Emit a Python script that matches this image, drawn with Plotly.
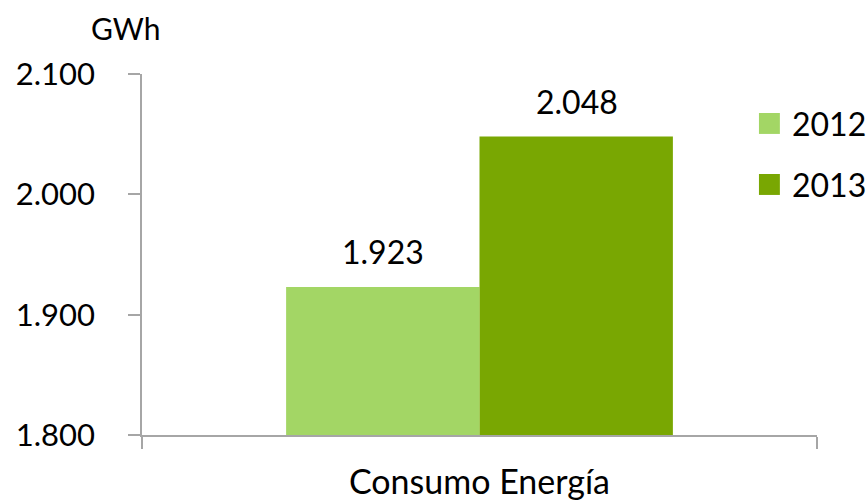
import plotly.graph_objects as go

categories = ["Consumo Energía"]
years = ["2012", "2013"]
values_2012 = [1923]
values_2013 = [2048]
colors = {"2012": "#A3D665", "2013": "#79A702"}
y_ticks = [1800, 1900, 2000, 2100]

FONT = "Lato, Open Sans, sans-serif"
SIZE = 32

fig = go.Figure()
series = [values_2012, values_2013]
shifts = [-97, 97]
annotations = []
for yr, vals, sh in zip(years, series, shifts):
    fig.add_trace(go.Bar(
        x=categories, y=vals, name=yr, showlegend=False,
        marker=dict(color=colors[yr], line=dict(width=0)),
        hoverinfo="skip",
    ))
    for c, v in zip(categories, vals):
        annotations.append(dict(x=c, y=v, xref="x", yref="y", text=f"{v:,}".replace(",", "."),
                                showarrow=False, xshift=sh, yshift=35,
                                yanchor="middle", xanchor="center",
                                font=dict(size=SIZE, color="#000000")))

# legend drawn as squares + labels in paper coordinates
shapes = []
leg_y = [(0.834, 0.892), (0.665, 0.723)]
for yr, (y0, y1) in zip(years, leg_y):
    shapes.append(dict(type="rect", xref="paper", yref="paper", x0=0.914, x1=0.945,
                       y0=y0, y1=y1, fillcolor=colors[yr], line=dict(width=0)))
    annotations.append(dict(text=yr, xref="paper", yref="paper", x=0.96, y=(y0 + y1) / 2,
                            xanchor="left", yanchor="middle", showarrow=False,
                            font=dict(size=SIZE)))

annotations.append(dict(text="GWh", x=-0.025, y=1.127, xref="paper", yref="paper",
                        xanchor="center", yanchor="middle", showarrow=False,
                        font=dict(size=30)))

fig.update_layout(
    width=867, height=502,
    margin=dict(l=142, r=50, t=74, b=67, autoexpand=False),
    paper_bgcolor="white", plot_bgcolor="white",
    separators=",.",
    barmode="group", bargap=0.427, bargroupgap=0,
    font=dict(family=FONT, size=SIZE, color="#000000"),
    showlegend=False,
    annotations=annotations,
    shapes=shapes,
)

fig.update_yaxes(range=[1800, 2100], tickvals=y_ticks, tickformat=",d",
                 showgrid=False, zeroline=False, showline=True, automargin=False,
                 linecolor="#A6A6A6", linewidth=1.5, ticks="outside",
                 ticklen=12, tickcolor="#A6A6A6", tickwidth=1.5,
                 ticklabelstandoff=27, tickfont=dict(size=31))
fig.update_xaxes(showgrid=False, showline=True, linecolor="#A6A6A6", linewidth=1.5,
                 automargin=False,
                 ticks="outside", tickson="boundaries", ticklen=12,
                 tickcolor="#A6A6A6", tickwidth=1.5, ticklabelstandoff=16,
                 tickfont=dict(size=34))

fig.write_html("out.html", config={"displayModeBar": False},
               post_script="document.body.style.margin='0px';document.body.style.overflow='hidden';")
